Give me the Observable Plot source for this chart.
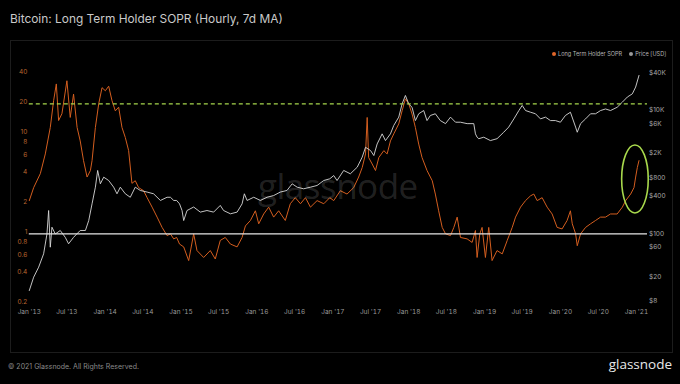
<!DOCTYPE html>
<html><head><meta charset="utf-8">
<script src="https://cdn.jsdelivr.net/npm/d3@7"></script>
<script src="https://cdn.jsdelivr.net/npm/@observablehq/plot@0.6"></script>
<style>
html,body{margin:0;padding:0;background:#000;}
body{width:680px;height:384px;position:relative;overflow:hidden;font-family:Inter,"Open Sans",sans-serif;}
#title{position:absolute;left:10px;top:11px;color:#c9c9c9;font-size:11.9px;white-space:nowrap;}
#panel{position:absolute;left:10px;top:40px;width:663px;height:313px;border:1px solid #1c1c1c;box-sizing:border-box;pointer-events:none;}
#chart{position:absolute;left:0;top:40px;}
#legend{position:absolute;top:51px;left:552px;font-size:5.6px;color:#b5b5b5;white-space:nowrap;display:flex;align-items:center;}
#legend .dot{display:inline-block;width:4px;height:4px;border-radius:50%;margin-right:2px;}
#legend .item{display:flex;align-items:center;margin-right:7px;}
#wm{position:absolute;left:258px;top:162px;font-size:35px;color:rgba(255,255,255,0.14);font-family:"Open Sans",sans-serif;letter-spacing:-0.5px;}
#copy{position:absolute;left:8px;top:362px;font-size:7px;color:#8a8a8a;}
#logo{position:absolute;right:8px;top:355px;font-size:13.5px;color:#e8e8e8;font-family:"Open Sans",sans-serif;}
</style></head>
<body>
<div id="title">Bitcoin: Long Term Holder SOPR (Hourly, 7d MA)</div>
<div id="chart"></div>
<div id="wm">glassnode</div>
<div id="panel"></div>
<div id="legend"><span class="item"><span class="dot" style="background:#e0662a"></span>Long Term Holder SOPR</span><span class="item"><span class="dot" style="background:#9a9a9a"></span>Price [USD]</span></div>
<div id="copy">© 2021 Glassnode. All Rights Reserved.</div>
<div id="logo">glassnode</div>
<script>
const soprDates = ["2013-01-01","2013-01-22","2013-02-23","2013-03-19","2013-04-12","2013-04-28","2013-05-11","2013-05-22","2013-06-07","2013-07-01","2013-07-17","2013-08-02","2013-08-19","2013-09-03","2013-09-19","2013-10-06","2013-10-22","2013-10-30","2013-11-15","2013-12-01","2013-12-17","2014-01-02","2014-01-18","2014-02-03","2014-02-19","2014-03-07","2014-03-23","2014-04-08","2014-04-24","2014-05-10","2014-05-26","2014-06-11","2014-07-05","2014-07-22","2014-08-15","2014-09-08","2014-10-02","2014-10-26","2014-11-11","2014-11-27","2014-12-11","2014-12-25","2015-01-14","2015-02-07","2015-03-03","2015-03-19","2015-04-20","2015-05-22","2015-06-15","2015-07-09","2015-08-02","2015-08-27","2015-09-28","2015-10-22","2015-11-07","2015-12-01","2015-12-25","2016-01-10","2016-02-03","2016-02-27","2016-03-22","2016-04-15","2016-05-17","2016-06-10","2016-07-04","2016-07-29","2016-08-22","2016-09-15","2016-10-17","2016-11-18","2016-12-17","2017-01-05","2017-02-06","2017-03-10","2017-04-11","2017-05-05","2017-05-22","2017-06-07","2017-06-15","2017-06-22","2017-07-09","2017-07-25","2017-08-10","2017-09-03","2017-09-19","2017-10-05","2017-10-21","2017-11-14","2017-11-30","2017-12-16","2018-01-01","2018-01-17","2018-02-02","2018-02-18","2018-03-06","2018-03-30","2018-04-24","2018-05-09","2018-05-25","2018-06-11","2018-06-27","2018-07-21","2018-08-06","2018-08-22","2018-09-07","2018-10-09","2018-11-02","2018-11-18","2018-11-26","2018-12-09","2018-12-20","2019-01-05","2019-01-21","2019-02-06","2019-03-02","2019-03-27","2019-04-20","2019-05-14","2019-05-30","2019-06-23","2019-07-17","2019-08-10","2019-08-26","2019-09-11","2019-10-05","2019-10-29","2019-11-22","2019-12-16","2020-01-09","2020-02-02","2020-02-18","2020-02-27","2020-03-14","2020-03-22","2020-04-07","2020-05-01","2020-05-25","2020-06-18","2020-07-12","2020-08-05","2020-08-29","2020-09-30","2020-10-25","2020-11-10","2020-12-04","2020-12-20","2020-12-28","2021-01-05","2021-01-13"];
const soprValues = [2.15,2.9,4.0,6.3,11.6,21.5,31.6,13.6,15.9,34,14.6,25,11.6,8.5,5.4,3.7,4.3,5.4,11.6,20,29,27,30,21.5,17,18.5,11.6,9.2,6.8,3.2,3.4,2.9,2.7,2.3,1.85,1.47,1.16,0.96,1.0,0.89,0.92,0.79,0.74,0.54,1.0,0.68,0.58,0.68,0.56,0.86,0.92,0.79,0.74,0.92,1.2,1.36,1.7,1.26,1.58,1.85,1.47,1.7,1.36,2.0,2.3,2.0,2.3,1.85,2.15,2.0,2.3,2.15,2.7,2.5,2.9,3.7,4.6,6.3,14.6,5.8,5.0,4.3,5.8,6.8,6.3,8.5,10,12.6,17,22.4,20,15.8,11.6,7.9,5.8,4.3,3.4,2.5,1.7,1.16,1.0,0.96,1.16,1.47,0.92,0.89,0.82,1.08,0.58,1.0,1.16,0.58,1.16,0.54,0.68,0.63,0.86,1.16,1.47,1.85,2.15,2.4,2.5,2.15,2.3,1.85,1.58,1.16,1.12,1.36,1.7,1.26,1.0,0.76,1.0,1.16,1.26,1.36,1.47,1.47,1.58,1.58,1.85,2.15,2.5,2.9,3.7,4.6,5.4];

const priceDates = ["2013-01-01","2013-01-22","2013-02-15","2013-03-11","2013-03-27","2013-04-04","2013-04-12","2013-04-20","2013-05-06","2013-05-30","2013-06-23","2013-07-09","2013-08-02","2013-09-03","2013-09-28","2013-10-14","2013-10-30","2013-11-15","2013-11-26","2013-12-09","2013-12-25","2014-01-18","2014-02-11","2014-02-27","2014-03-15","2014-04-08","2014-05-02","2014-05-26","2014-06-19","2014-07-22","2014-08-22","2014-09-24","2014-10-26","2014-11-11","2014-11-27","2014-12-11","2014-12-25","2015-01-06","2015-01-14","2015-01-30","2015-03-03","2015-04-04","2015-05-06","2015-06-07","2015-07-09","2015-07-25","2015-08-27","2015-09-28","2015-10-22","2015-11-02","2015-11-15","2015-12-17","2016-01-18","2016-02-19","2016-03-22","2016-04-23","2016-05-25","2016-06-19","2016-07-13","2016-08-13","2016-09-15","2016-10-17","2016-11-18","2016-12-17","2017-01-05","2017-01-21","2017-02-22","2017-03-26","2017-04-28","2017-05-22","2017-06-07","2017-07-01","2017-07-17","2017-08-02","2017-08-26","2017-09-11","2017-10-05","2017-10-21","2017-11-14","2017-11-30","2017-12-16","2018-01-01","2018-01-17","2018-02-02","2018-02-18","2018-03-14","2018-03-30","2018-04-15","2018-05-09","2018-06-02","2018-06-27","2018-07-21","2018-08-14","2018-09-07","2018-10-09","2018-11-10","2018-11-18","2018-11-26","2018-12-04","2018-12-28","2019-01-29","2019-03-02","2019-04-03","2019-04-27","2019-05-22","2019-06-15","2019-07-01","2019-07-17","2019-08-10","2019-09-03","2019-09-27","2019-10-21","2019-11-14","2019-12-08","2020-01-01","2020-01-25","2020-02-18","2020-03-14","2020-03-22","2020-04-07","2020-05-01","2020-05-25","2020-06-18","2020-07-12","2020-08-05","2020-08-29","2020-09-30","2020-10-25","2020-11-18","2020-12-12","2020-12-28","2021-01-13"];
const priceValues = [12.4,20.4,29.6,48.7,102,244,62.3,131,102,116,90,70.7,90,116,116,168,313,582,1085,660,845,746,582,455,582,455,400,582,515,485,455,355,400,400,355,355,313,244,168,244,278,230,244,230,295,244,216,230,313,455,355,400,355,400,426,485,515,660,582,548,582,620,746,795,897,746,1085,958,1225,1780,2570,2280,1890,2910,4240,3300,4240,5800,7900,12900,17700,12900,11400,6950,8950,10100,6950,8400,8950,6950,6200,7900,6540,6540,6200,6200,4240,3740,3540,3740,3300,3540,4500,5450,7400,10100,12200,10100,9480,8950,7400,7900,6950,6950,6540,8400,9480,5450,4500,6200,7400,8950,8950,10100,10700,10100,11400,13800,16700,18800,24200,37300];

const xTickDates = ["2013-01-01","2013-07-01","2014-01-01","2014-07-01","2015-01-01","2015-07-01","2016-01-01","2016-07-01","2017-01-01","2017-07-01","2018-01-01","2018-07-01","2019-01-01","2019-07-01","2020-01-01","2020-07-01","2021-01-01"];
const soprTicks = [0.2,0.4,0.6,0.8,1,2,4,6,8,10,20,40];
const soprTickLabels = ["0.2","0.4","0.6","0.8","1","2","4","6","8","10","20","40"];
const priceTicks = [8,20,60,100,400,800,2000,6000,10000,40000];
const priceTickLabels = ["$8","$20","$60","$100","$400","$800","$2K","$6K","$10K","$40K"];
const soprDomain = [0.2, 40];
const priceDomain = [7.6, 39800];
const xDomain = ["2013-01-01","2021-02-23"];
const refLevels = {dashed: 20, solid: 1};
const highlight = {date: "2020-12-27", value: 3.5};

const parse = d3.utcParse("%Y-%m-%d");
const sopr = soprDates.map((d,i)=>({date:parse(d), value:soprValues[i]}));
const price = priceDates.map((d,i)=>({date:parse(d), value:priceValues[i]}));
const k = Math.log(soprDomain[1]/soprDomain[0]) / Math.log(priceDomain[1]/priceDomain[0]);
const toS = p => soprDomain[0] * Math.pow(p/priceDomain[0], k);
const leftAxis = soprTicks.map((v,i)=>({y:v, label:soprTickLabels[i]}));
const rightAxis = priceTicks.map((v,i)=>({y:toS(v), label:priceTickLabels[i]}));

const plot = Plot.plot({
  width: 680, height: 312,
  marginLeft: 28.8, marginRight: 33, marginTop: 33.2, marginBottom: 48.8,
  style: {background: "transparent", color: "#9a9a9a", fontSize: "6.5px", fontFamily: "Inter, 'Open Sans', sans-serif"},
  x: {type: "utc", domain: xDomain.map(parse)},
  y: {type: "log", domain: soprDomain, axis: null},
  marks: [
    Plot.axisX({ticks: xTickDates.map(parse), tickFormat: d3.utcFormat("%b '%y"), tickSize: 0, tickPadding: 6, fill: "#9a9a9a", label: null}),
    Plot.text(leftAxis, {y: "y", text: "label", frameAnchor: "left", textAnchor: "end", dx: -2, dy: -1.5, fill: "#b8652f", fontSize: 6.5}),
    Plot.text(rightAxis, {y: "y", text: "label", frameAnchor: "right", textAnchor: "start", dx: 1.5, dy: -1, fill: "#a8a8a8", fontSize: 6.5}),
    Plot.line(sopr, {x: "date", y: "value", stroke: "#d45e1f", strokeWidth: 1}),
    Plot.line(price, {x: "date", y: d => toS(d.value), stroke: "#d8d8d8", strokeWidth: 0.9}),
    Plot.ruleY([refLevels.dashed], {stroke: "#a6d64c", strokeWidth: 1.3, strokeDasharray: "4,3"}),
    Plot.ruleY([refLevels.solid], {stroke: "#e6e6e6", strokeWidth: 1.3})
  ]
});
document.getElementById("chart").appendChild(plot);
const cx = plot.scale("x").apply(parse(highlight.date));
const cy = plot.scale("y").apply(highlight.value);
d3.select(plot).append("ellipse")
  .attr("cx", cx).attr("cy", cy).attr("rx", 13.3).attr("ry", 34)
  .attr("fill", "none").attr("stroke", "#a8d84c").attr("stroke-width", 1.6);
</script>
</body></html>
